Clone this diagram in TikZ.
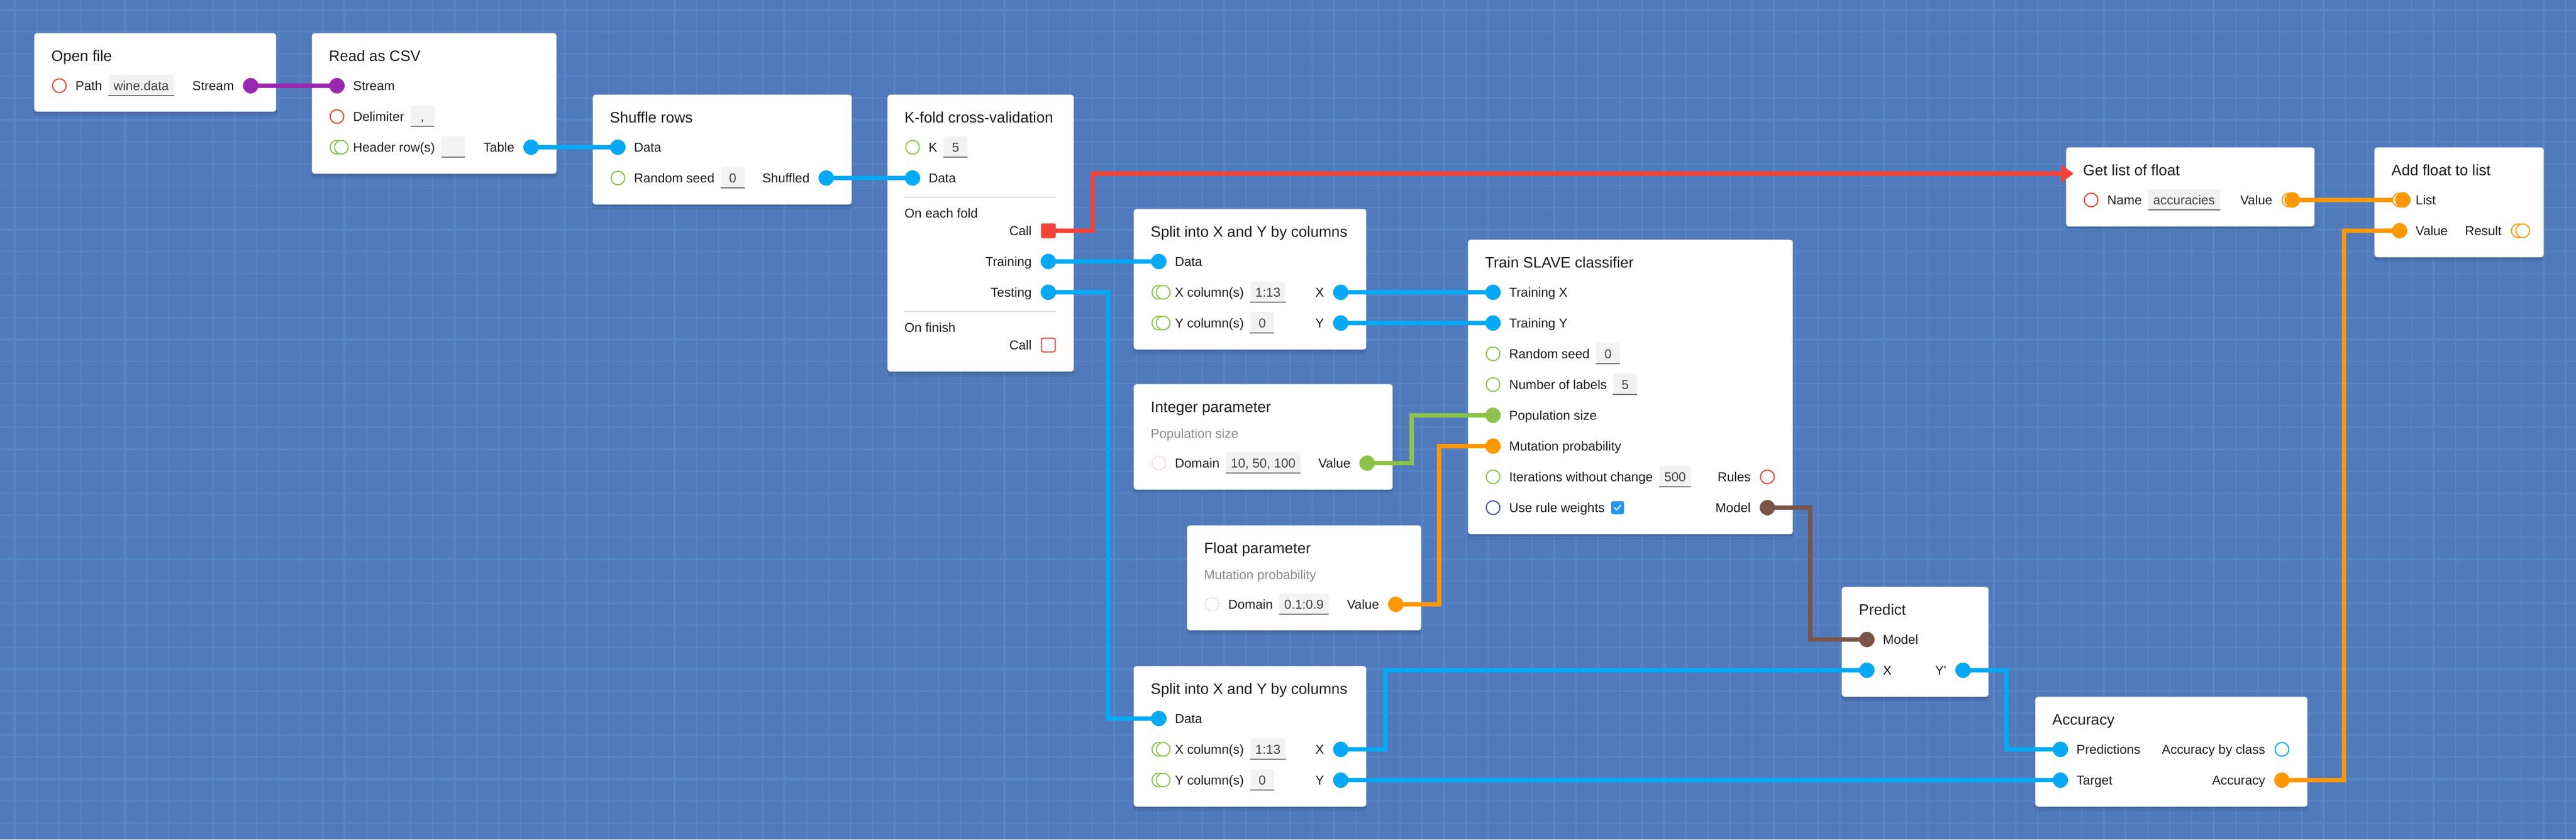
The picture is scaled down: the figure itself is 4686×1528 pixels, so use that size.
\documentclass[tikz,border=0pt]{standalone}
\usepackage{fontspec}
\setmainfont{Liberation Sans}
\usetikzlibrary{shadows,arrows.meta,calc}
\definecolor{bgc}{RGB}{81,122,189}
\definecolor{gridc}{RGB}{86,134,201}
\definecolor{cPurple}{HTML}{9C27B0}
\definecolor{cBlue}{HTML}{03A9F4}
\definecolor{cRed}{HTML}{F44336}
\definecolor{cGreen}{HTML}{8BC34A}
\definecolor{cOrange}{HTML}{FF9800}
\definecolor{cBrown}{HTML}{795548}
\definecolor{cIndigo}{HTML}{3F51B5}
\definecolor{cCheck}{HTML}{2196F3}
\definecolor{cPink}{HTML}{F8BBD0}
\definecolor{cLilac}{HTML}{E1BEE7}
\definecolor{txt}{HTML}{1E1E1E}
\definecolor{subt}{HTML}{8A8A8A}
\definecolor{fieldc}{HTML}{F2F2F2}
\definecolor{ulc}{HTML}{707070}
\definecolor{sepc}{HTML}{E0E0E0}
\newcommand\ttlfont{\fontsize{13.75pt}{16pt}\selectfont}
\newcommand\bdyfont{\fontsize{11.75pt}{14pt}\selectfont}
\pgfdeclarelayer{back}
\pgfdeclarelayer{cards}
\pgfdeclarelayer{wires}
\pgfsetlayers{back,cards,wires,main}
\newcommand\fld[3]{%
  \node[field] (#1) at ([xshift=5.5pt]#2.base east) {#3};
  \draw[uline] ([yshift=0.6pt]#1.south west) -- ([yshift=0.6pt]#1.south east);}
\begin{document}
\begin{tikzpicture}[x=0.5pt,y=-0.5pt,
  gminor/.style={draw=gridc, line width=0.65pt},
  gmajor/.style={draw=gridc, line width=1.6pt},
  card/.style={rectangle, fill=white, rounded corners=2.5pt, inner sep=0, anchor=north west,
    general shadow={fill=black, opacity=0.08, shadow yshift=-4pt, shadow scale=1.004},
    general shadow={fill=black, opacity=0.10, shadow yshift=-1.5pt}},
  tt/.style={font=\ttlfont, text=txt, inner sep=0, anchor=base west},
  lb/.style={font=\bdyfont, text=txt, inner sep=0, anchor=base west},
  rl/.style={font=\bdyfont, text=txt, inner sep=0, anchor=base east},
  sub/.style={font=\bdyfont, text=subt, inner sep=0, anchor=base west},
  field/.style={anchor=base west, fill=fieldc, rounded corners=2pt, inner xsep=4.5pt, inner ysep=0,
    text height=14.25pt, text depth=5.25pt, minimum width=21.5pt, font=\bdyfont, text=txt!85},
  uline/.style={draw=ulc, line width=1.25pt},
  pdot/.style={circle, fill=#1, minimum size=14pt, inner sep=0},
  pring/.style={circle, draw=#1, line width=1pt, fill=white, minimum size=12.5pt, inner sep=0},
  pdash/.style={circle, draw=#1, line width=0.9pt, dash pattern=on 1.4pt off 1.4pt, fill=white, minimum size=12.5pt, inner sep=0},
  sqf/.style={rectangle, fill=cRed, minimum size=13.5pt, rounded corners=1.5pt, inner sep=0},
  sqo/.style={rectangle, draw=cRed, line width=1pt, fill=white, minimum size=12.5pt, rounded corners=1.5pt, inner sep=0},
  wire/.style={draw=#1, line width=3.75pt, line join=miter},
  sepl/.style={draw=sepc, line width=1pt}]
\useasboundingbox (0,0) rectangle (4686,1528);

% ---------- background grid ----------
\begin{pgfonlayer}{back}
\fill[bgc] (0,0) rectangle (4686,1528);
\foreach \x in {27,67,...,4686} \draw[gminor] (\x,0) -- (\x,1528);
\foreach \y in {18,58,...,1528} \draw[gminor] (0,\y) -- (4686,\y);
\foreach \x in {27,227,...,4686} \draw[gmajor] (\x,0) -- (\x,1528);
\foreach \y in {18,218,...,1528} \draw[gmajor] (0,\y) -- (4686,\y);
\end{pgfonlayer}

% ---------- cards ----------
\begin{pgfonlayer}{cards}
\node[card, minimum width=220pt,   minimum height=71.5pt] (of) at (62,60) {};
\node[card, minimum width=222.5pt, minimum height=128pt]  (rc) at (567,60) {};
\node[card, minimum width=235.5pt, minimum height=100pt]  (sh) at (1078,172) {};
\node[card, minimum width=169.5pt, minimum height=252pt]  (kf) at (1614,172) {};
\node[card, minimum width=211.5pt, minimum height=128pt]  (s1) at (2062,380) {};
\node[card, minimum width=295.5pt, minimum height=268pt]  (tr) at (2670,436) {};
\node[card, minimum width=235.5pt, minimum height=96pt]   (ip) at (2062,699) {};
\node[card, minimum width=213pt,   minimum height=95.5pt] (fp) at (2159,956) {};
\node[card, minimum width=133.5pt, minimum height=100pt]  (pr) at (3350,1068) {};
\node[card, minimum width=211.5pt, minimum height=128pt]  (s2) at (2062,1212) {};
\node[card, minimum width=247.5pt, minimum height=100pt]  (ac) at (3702,1268) {};
\node[card, minimum width=226pt,   minimum height=72pt]   (gl) at (3758,268) {};
\node[card, minimum width=154pt,   minimum height=100pt]  (af) at (4319,268) {};
\end{pgfonlayer}

% ---------- Open file ----------
\node[tt] (of-t) at (93,111) {Open file};
\node[pring=cRed] (of-path) at (108,156) {};
\node[lb] (of-l1) at (137,164.5) {Path};
\fld{of-f1}{of-l1}{wine.data}
\node[rl] (of-r1) at (426,164.5) {Stream};
\node[pdot=cPurple] (of-stream) at (456,156) {};

% ---------- Read as CSV ----------
\node[tt] (rc-t) at (598,111) {Read as CSV};
\node[pdot=cPurple] (rc-stream) at (613,156) {};
\node[lb] (rc-l1) at (642,164.5) {Stream};
\node[pring=cRed] (rc-delim) at (613,212) {};
\node[lb] (rc-l2) at (642,220.5) {Delimiter};
\fld{rc-f2}{rc-l2}{,}
\node[pring=cGreen] (rc-hdr) at (613,268) {};
\node[pring=cGreen] (rc-hdr2) at (621,268) {};
\node[lb] (rc-l3) at (642,276.5) {Header row(s)};
\fld{rc-f3}{rc-l3}{}
\node[rl] (rc-r3) at (936,276.5) {Table};
\node[pdot=cBlue] (rc-table) at (966,268) {};

% ---------- Shuffle rows ----------
\node[tt] (sh-t) at (1109,223) {Shuffle rows};
\node[pdot=cBlue] (sh-data) at (1124,268) {};
\node[lb] (sh-l1) at (1153,276.5) {Data};
\node[pring=cGreen] (sh-seed) at (1124,324) {};
\node[lb] (sh-l2) at (1153,332.5) {Random seed};
\fld{sh-f2}{sh-l2}{0}
\node[rl] (sh-r2) at (1473,332.5) {Shuffled};
\node[pdot=cBlue] (sh-shuf) at (1503,324) {};

% ---------- K-fold cross-validation ----------
\node[tt] (kf-t) at (1645,223) {K-fold cross-validation};
\node[pring=cGreen] (kf-k) at (1660,268) {};
\node[lb] (kf-l1) at (1689,276.5) {K};
\fld{kf-f1}{kf-l1}{5}
\node[pdot=cBlue] (kf-data) at (1660,324) {};
\node[lb] (kf-l2) at (1689,332.5) {Data};
\draw[sepl] (1645,359) -- (1922,359);
\node[lb] (kf-s1) at (1645,396.5) {On each fold};
\node[rl] (kf-r1) at (1877,428.5) {Call};
\node[sqf] (kf-call) at (1907,420) {};
\node[rl] (kf-r2) at (1877,484.5) {Training};
\node[pdot=cBlue] (kf-train) at (1907,476) {};
\node[rl] (kf-r3) at (1877,540.5) {Testing};
\node[pdot=cBlue] (kf-test) at (1907,532) {};
\draw[sepl] (1645,567) -- (1922,567);
\node[lb] (kf-s2) at (1645,604.5) {On finish};
\node[rl] (kf-r4) at (1877,636.5) {Call};
\node[sqo] (kf-fin) at (1907,628) {};

% ---------- Split (training) ----------
\node[tt] (s1-t) at (2093,431) {Split into X and Y by columns};
\node[pdot=cBlue] (s1-data) at (2108,476) {};
\node[lb] (s1-l1) at (2137,484.5) {Data};
\node[pring=cGreen] (s1-xc) at (2108,532) {};
\node[pring=cGreen] (s1-xc2) at (2116,532) {};
\node[lb] (s1-l2) at (2137,540.5) {X column(s)};
\fld{s1-f2}{s1-l2}{1:13}
\node[rl] (s1-r2) at (2409,540.5) {X};
\node[pdot=cBlue] (s1-x) at (2439,532) {};
\node[pring=cGreen] (s1-yc) at (2108,588) {};
\node[pring=cGreen] (s1-yc2) at (2116,588) {};
\node[lb] (s1-l3) at (2137,596.5) {Y column(s)};
\fld{s1-f3}{s1-l3}{0}
\node[rl] (s1-r3) at (2409,596.5) {Y};
\node[pdot=cBlue] (s1-y) at (2439,588) {};

% ---------- Train SLAVE classifier ----------
\node[tt] (tr-t) at (2701,487) {Train SLAVE classifier};
\node[pdot=cBlue] (tr-x) at (2716,532) {};
\node[lb] (tr-l1) at (2745,540.5) {Training X};
\node[pdot=cBlue] (tr-y) at (2716,588) {};
\node[lb] (tr-l2) at (2745,596.5) {Training Y};
\node[pring=cGreen] (tr-seed) at (2716,644) {};
\node[lb] (tr-l3) at (2745,652.5) {Random seed};
\fld{tr-f3}{tr-l3}{0}
\node[pring=cGreen] (tr-nl) at (2716,700) {};
\node[lb] (tr-l4) at (2745,708.5) {Number of labels};
\fld{tr-f4}{tr-l4}{5}
\node[pdot=cGreen] (tr-pop) at (2716,756) {};
\node[lb] (tr-l5) at (2745,764.5) {Population size};
\node[pdot=cOrange] (tr-mut) at (2716,812) {};
\node[lb] (tr-l6) at (2745,820.5) {Mutation probability};
\node[pring=cGreen] (tr-it) at (2716,868) {};
\node[lb] (tr-l7) at (2745,876.5) {Iterations without change};
\fld{tr-f7}{tr-l7}{500}
\node[rl] (tr-r7) at (3185,876.5) {Rules};
\node[pring=cRed] (tr-rules) at (3215,868) {};
\node[pring=cIndigo] (tr-urw) at (2716,924) {};
\node[lb] (tr-l8) at (2745,932.5) {Use rule weights};
\node[rectangle, fill=cCheck, rounded corners=1.5pt, minimum size=11.75pt, inner sep=0, anchor=west] (tr-chk) at ([xshift=5.5pt,yshift=4.25pt]tr-l8.base east) {};
\draw[white, line width=1pt, line cap=round, line join=round] ([xshift=-3pt,yshift=0.2pt]tr-chk.center) -- ([xshift=-0.9pt,yshift=-2pt]tr-chk.center) -- ([xshift=3pt,yshift=2.4pt]tr-chk.center);
\node[rl] (tr-r8) at (3185,932.5) {Model};
\node[pdot=cBrown] (tr-model) at (3215,924) {};

% ---------- Integer parameter ----------
\node[tt] (ip-t) at (2093,750) {Integer parameter};
\node[sub] (ip-s) at (2093,797.5) {Population size};
\node[pdash=cPink] (ip-dom) at (2108,843) {};
\node[lb] (ip-l1) at (2137,851.5) {Domain};
\fld{ip-f1}{ip-l1}{10, 50, 100}
\node[rl] (ip-r1) at (2457,851.5) {Value};
\node[pdot=cGreen] (ip-value) at (2487,843) {};

% ---------- Float parameter ----------
\node[tt] (fp-t) at (2190,1007) {Float parameter};
\node[sub] (fp-s) at (2190,1054.5) {Mutation probability};
\node[pdash=cLilac] (fp-dom) at (2205,1100) {};
\node[lb] (fp-l1) at (2234,1108.5) {Domain};
\fld{fp-f1}{fp-l1}{0.1:0.9}
\node[rl] (fp-r1) at (2509,1108.5) {Value};
\node[pdot=cOrange] (fp-value) at (2539,1100) {};

% ---------- Predict ----------
\node[tt] (pr-t) at (3381,1119) {Predict};
\node[pdot=cBrown] (pr-model) at (3396,1164) {};
\node[lb] (pr-l1) at (3425,1172.5) {Model};
\node[pdot=cBlue] (pr-x) at (3396,1220) {};
\node[lb] (pr-l2) at (3425,1228.5) {X};
\node[rl] (pr-r2) at (3541,1228.5) {Y\textquotesingle};
\node[pdot=cBlue] (pr-y) at (3571,1220) {};

% ---------- Split (testing) ----------
\node[tt] (s2-t) at (2093,1263) {Split into X and Y by columns};
\node[pdot=cBlue] (s2-data) at (2108,1308) {};
\node[lb] (s2-l1) at (2137,1316.5) {Data};
\node[pring=cGreen] (s2-xc) at (2108,1364) {};
\node[pring=cGreen] (s2-xc2) at (2116,1364) {};
\node[lb] (s2-l2) at (2137,1372.5) {X column(s)};
\fld{s2-f2}{s2-l2}{1:13}
\node[rl] (s2-r2) at (2409,1372.5) {X};
\node[pdot=cBlue] (s2-x) at (2439,1364) {};
\node[pring=cGreen] (s2-yc) at (2108,1420) {};
\node[pring=cGreen] (s2-yc2) at (2116,1420) {};
\node[lb] (s2-l3) at (2137,1428.5) {Y column(s)};
\fld{s2-f3}{s2-l3}{0}
\node[rl] (s2-r3) at (2409,1428.5) {Y};
\node[pdot=cBlue] (s2-y) at (2439,1420) {};

% ---------- Accuracy ----------
\node[tt] (ac-t) at (3733,1319) {Accuracy};
\node[pdot=cBlue] (ac-pred) at (3748,1364) {};
\node[lb] (ac-l1) at (3777,1372.5) {Predictions};
\node[rl] (ac-r1) at (4121,1372.5) {Accuracy by class};
\node[pring=cBlue] (ac-abc) at (4151,1364) {};
\node[pdot=cBlue] (ac-target) at (3748,1420) {};
\node[lb] (ac-l2) at (3777,1428.5) {Target};
\node[rl] (ac-r2) at (4121,1428.5) {Accuracy};
\node[pdot=cOrange] (ac-acc) at (4151,1420) {};

% ---------- Get list of float ----------
\node[tt] (gl-t) at (3789,319) {Get list of float};
\coordinate (gl-tip) at (3772,316);
\node[pring=cRed] (gl-name) at (3804,364) {};
\node[lb] (gl-l1) at (3833,372.5) {Name};
\fld{gl-f1}{gl-l1}{accuracies}
\node[rl] (gl-r1) at (4134,372.5) {Value};
\node[pring=cOrange] (gl-value0) at (4164,364) {};
\node[pdot=cOrange] (gl-value) at (4170,364) {};

% ---------- Add float to list ----------
\node[tt] (af-t) at (4350,319) {Add float to list};
\node[pring=cOrange] (af-list0) at (4365,364) {};
\node[pdot=cOrange] (af-list) at (4371,364) {};
\node[lb] (af-l1) at (4394,372.5) {List};
\node[pdot=cOrange] (af-value) at (4365,420) {};
\node[lb] (af-l2) at (4394,428.5) {Value};
\node[rl] (af-r2) at (4551,428.5) {Result};
\node[pring=cOrange] (af-res) at (4581,420) {};
\node[pring=cOrange] (af-res2) at (4589,420) {};

% ---------- connectors ----------
\begin{pgfonlayer}{wires}
\draw[wire=cPurple] (of-stream.center) -- (rc-stream.center);
\draw[wire=cBlue] (rc-table.center) -- (sh-data.center);
\draw[wire=cBlue] (sh-shuf.center) -- (kf-data.center);
\draw[wire=cRed, -{Triangle[length=11.5pt,width=16pt]}] (kf-call.center) -- ++(81,0) |- (gl-tip);
\draw[wire=cBlue] (kf-train.center) -- (s1-data.center);
\draw[wire=cBlue] (kf-test.center) -| ([xshift=-46pt]s2-data.center) -- (s2-data.center);
\draw[wire=cBlue] (s1-x.center) -- (tr-x.center);
\draw[wire=cBlue] (s1-y.center) -- (tr-y.center);
\draw[wire=cGreen] (ip-value.center) -- ++(81,0) |- (tr-pop.center);
\draw[wire=cOrange] (fp-value.center) -- ++(79,0) |- (tr-mut.center);
\draw[wire=cBrown] (tr-model.center) -- ++(78,0) |- (pr-model.center);
\draw[wire=cBlue] (s2-x.center) -- ++(81,0) |- (pr-x.center);
\draw[wire=cBlue] (pr-y.center) -- ++(79,0) |- (ac-pred.center);
\draw[wire=cBlue] (s2-y.center) -- (ac-target.center);
\draw[wire=cOrange] (ac-acc.center) -- ++(113,0) |- (af-value.center);
\draw[wire=cOrange] (gl-value.center) -- (af-list.center);
\end{pgfonlayer}
\end{tikzpicture}
\end{document}
